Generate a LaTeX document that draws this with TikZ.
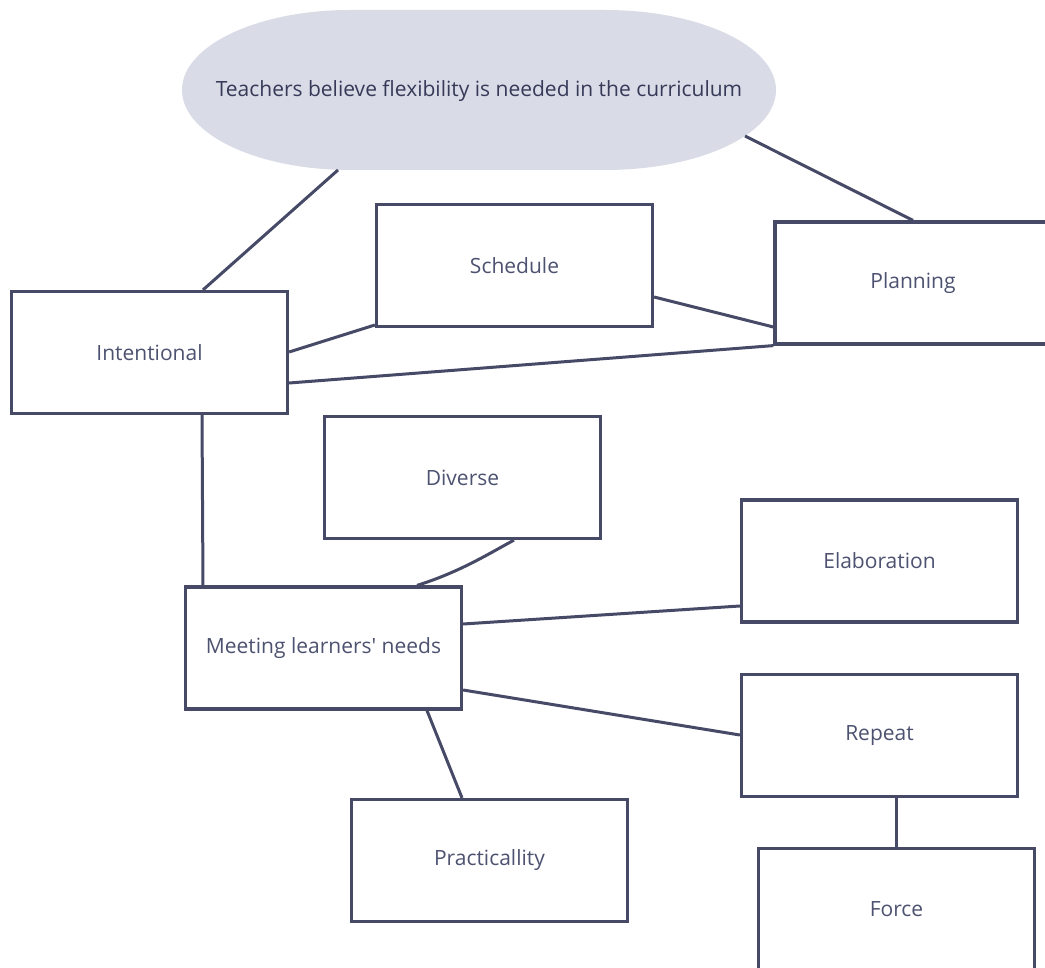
\documentclass[tikz,border=0pt]{standalone}
\usepackage{fontspec}
\setmainfont{Open Sans}[Ligatures=TeXOff]
\definecolor{edge}{HTML}{464A66}
\definecolor{label}{HTML}{4D5270}
\definecolor{title}{HTML}{363A58}
\definecolor{bubble}{HTML}{D9DBE6}
\begin{document}
\begin{tikzpicture}[x=1pt,y=-1pt,
  concept/.style={draw=edge,line width=3.2pt,fill=white,minimum width=276pt,minimum height=122pt,
    inner sep=0pt,font=\fontsize{21}{24}\selectfont,text=label},
  link/.style={draw=edge,line width=3pt}]
\useasboundingbox (0,0) rectangle (1045,968);
\clip (0,0) rectangle (1045,968);
\fill[white] (0,0) rectangle (1045,968);

% top bubble: rectangle with elliptical ends
\fill[bubble] (350,10) -- (605,10) arc[start angle=-90,end angle=90,x radius=171,y radius=80]
  -- (350,170) arc[start angle=90,end angle=270,x radius=168,y radius=80] -- cycle;
\node[font=\fontsize{21}{24}\selectfont,text=title] (top) at (479,90.5) {Teachers believe flexibility is needed in the curriculum};
\coordinate (topL) at (338,170);
\coordinate (topR) at (745,136);

% concept boxes
\node[concept] (sched) at (514.5,265.5) {Schedule};
\node[concept] (plan) at (913,283) {Planning};
\node[concept] (intent) at (149.5,352.5) {Intentional};
\node[concept] (div) at (462.5,477.5) {Diverse};
\node[concept] (elab) at (879.5,561) {Elaboration};
\node[concept] (meet) at (323.5,648) {Meeting learners' needs};
\node[concept] (rep) at (879.5,735.5) {Repeat};
\node[concept] (prac) at (489.5,860.5) {Practicallity};
\node[concept] (force) at (896.5,909.5) {Force};

% connectors
\draw[link] (topL) -- (intent.north -| 203,0);
\draw[link] (topR) -- (plan.north);
\draw[link] (intent.east |- 0,352) -- (sched.west |- 0,325);
\draw[link] (sched.east |- 0,297) -- (plan.west |- 0,327);
\draw[link] (intent.east |- 0,383) -- (plan.south west);
\draw[link] (intent.south -| 202,0) -- (meet.north -| 203,0);
\draw[link] (div.south -| 514,0) .. controls (490,553) and (460,572) .. (meet.north -| 417,0);
\draw[link] (meet.east |- 0,624) -- (elab.west |- 0,606);
\draw[link] (meet.east |- 0,690) -- (rep.west |- 0,735);
\draw[link] (meet.south -| 427,0) -- (prac.north -| 462,0);
\draw[link] (rep.south -| 896,0) -- (force.north -| 896,0);
\end{tikzpicture}
\end{document}
